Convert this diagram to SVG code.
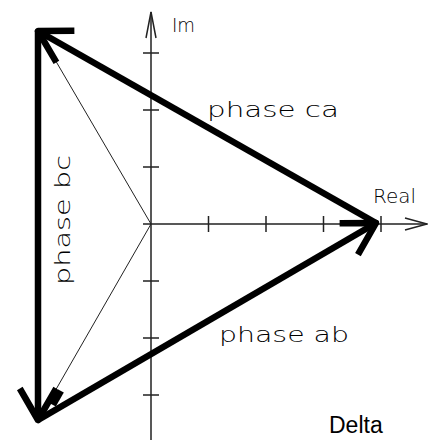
<svg xmlns="http://www.w3.org/2000/svg" width="428" height="440" viewBox="0 0 428 440">
<style>
.ax{stroke:#222;stroke-width:1.5;fill:none}
.thin{stroke:#222;stroke-width:1;fill:none}
.vec{stroke:#000;stroke-width:6.5;fill:none;stroke-linecap:butt}
.cad{font-family:"Liberation Sans",Arial,sans-serif;fill:#000}
.ph{font-family:"DejaVu Sans","Liberation Sans",sans-serif;font-weight:200;fill:#000}
</style>
<defs>
<marker id="ah" markerUnits="userSpaceOnUse" viewBox="-50 -50 100 100" markerWidth="100" markerHeight="100" refX="0" refY="0" orient="auto" overflow="visible">
<path d="M-31.5,-18.2 L0,0 L-31.5,18.2" fill="none" stroke="#000" stroke-width="6.5" stroke-linejoin="round"/>
</marker>
</defs>
<rect width="428" height="440" fill="#fff"/>
<g id="axes">
<path class="ax" d="M151 12 V440 M143 224 H427"/>
<path class="ax" d="M208.5 216 V232 M266 216 V232 M323.5 216 V232 M381 216 V232"/>
<path class="ax" d="M143 53 H159 M143 110 H159 M143 167 H159 M143 281 H159 M143 338 H159 M143 395 H159"/>
<polyline class="ax" points="146,38 151,12 156,38"/>
<polyline class="ax" points="405,218 427,224 405,230"/>
</g>
<g id="connectors">
<path class="thin" d="M151 224 L40 34"/>
<path class="thin" d="M151 224 L39 419"/>
<path id="phase-ca" class="vec" d="M376 223 L38 31" marker-end="url(#ah)"/>
<path id="phase-bc" class="vec" d="M38 31 L38 420" marker-end="url(#ah)"/>
<path id="phase-ab" class="vec" d="M38 420 L376 223" marker-end="url(#ah)"/>
<path class="vec" d="M61 391 L53 405"/>
</g>
<g id="labels">
<text class="ph" x="172" y="32" font-size="19" textLength="23" lengthAdjust="spacingAndGlyphs">Im</text>
<text class="ph" x="373" y="203" font-size="20" textLength="43" lengthAdjust="spacingAndGlyphs">Real</text>
<text class="ph" x="207" y="117" font-size="22" textLength="132" lengthAdjust="spacingAndGlyphs">phase ca</text>
<text class="ph" x="219" y="342" font-size="22" textLength="130" lengthAdjust="spacingAndGlyphs">phase ab</text>
<text class="ph" transform="translate(70,285) rotate(-90)" x="0" y="0" font-size="22" textLength="130" lengthAdjust="spacingAndGlyphs">phase bc</text>
<text class="cad" x="329" y="433" font-size="23">Delta</text>
</g>
</svg>
